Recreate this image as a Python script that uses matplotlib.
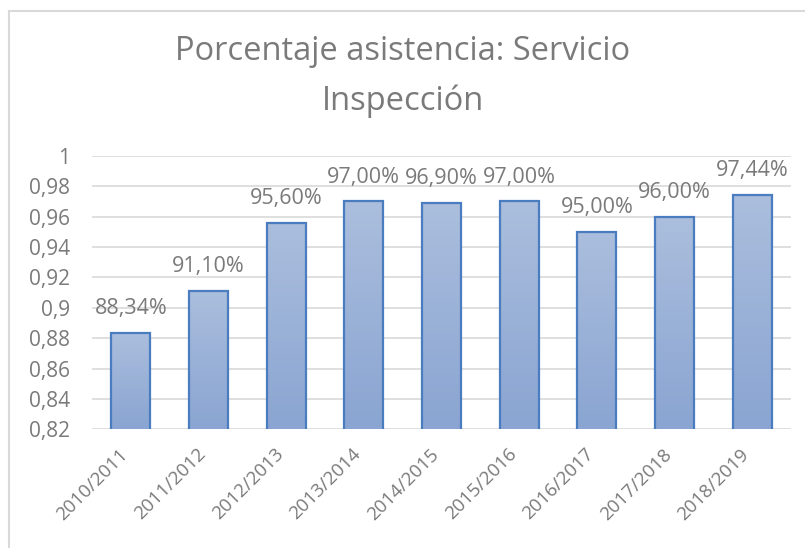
import numpy as np
import matplotlib.pyplot as plt
import matplotlib.transforms as mtransforms
from matplotlib.colors import LinearSegmentedColormap
from matplotlib.lines import Line2D

# Datos
cursos = ['2010/2011', '2011/2012', '2012/2013', '2013/2014', '2014/2015',
          '2015/2016', '2016/2017', '2017/2018', '2018/2019']
asistencia = [0.8834, 0.9110, 0.9560, 0.9700, 0.9690, 0.9700, 0.9500, 0.9600, 0.9744]
etiquetas = ['88,34%', '91,10%', '95,60%', '97,00%', '96,90%',
             '97,00%', '95,00%', '96,00%', '97,44%']
yticks = [0.82, 0.84, 0.86, 0.88, 0.9, 0.92, 0.94, 0.96, 0.98, 1]
ytick_labels = ['0,82', '0,84', '0,86', '0,88', '0,9', '0,92', '0,94', '0,96', '0,98', '1']

plt.rcParams['font.family'] = ['Open Sans', 'DejaVu Sans']
gris = '#7a7a7a'

fig = plt.figure(figsize=(8.05, 5.48), dpi=100)
ax = fig.add_axes([92 / 805, 1 - 429.3 / 548, 699 / 805, 273.6 / 548])

x = np.arange(len(cursos))
bars = ax.bar(x, asistencia, width=0.5, bottom=0, color='none',
              edgecolor='#4a7cc0', linewidth=1.6, zorder=3)

# Degradado en las barras
cmap = LinearSegmentedColormap.from_list('grad', ['#8aa5d2', '#abbedd'])
grad = np.linspace(0, 1, 256).reshape(-1, 1)
for b in bars:
    bx = b.get_x()
    w, h = b.get_width(), b.get_height()
    im = ax.imshow(grad, cmap=cmap, aspect='auto', origin='lower',
                   extent=[bx, bx + w, 0.82, h], zorder=2)
    im.set_clip_path(b)

for xi, v, t in zip(x, asistencia, etiquetas):
    ax.text(xi, v + 0.009, t, ha='center', va='bottom', fontsize=15.5, color=gris)

ax.set_xlim(-0.5, len(cursos) - 0.5)
ax.set_ylim(0.82, 1)
ax.set_yticks(yticks)
ax.set_yticklabels(ytick_labels, fontsize=15, color=gris)
ax.set_xticks(x)
ax.set_xticklabels(cursos, rotation=45, ha='right', rotation_mode='anchor',
                   fontsize=13.5, color=gris)
ax.tick_params(axis='y', length=0, pad=16)
ax.tick_params(axis='x', length=0, pad=10)
desplaz = mtransforms.ScaledTranslation(-12 / 100, -2 / 100, fig.dpi_scale_trans)
for lab in ax.get_xticklabels():
    lab.set_transform(lab.get_transform() + desplaz)
ax.grid(axis='y', color='#d9d9d9', linewidth=1.2, zorder=0)
ax.set_axisbelow(True)
for s in ax.spines.values():
    s.set_visible(False)

fig.text(0.5, 1 - 52 / 548, 'Porcentaje asistencia: Servicio', ha='center', va='center',
         fontsize=23.5, color=gris)
fig.text(0.5, 1 - 101 / 548, 'Inspección', ha='center', va='center',
         fontsize=23.5, color=gris)

# Marco del gráfico
fig.add_artist(Line2D([9 / 805, 9 / 805], [0, 1 - 11 / 548], color='#d9d9d9', lw=1.5))
fig.add_artist(Line2D([9 / 805, 1], [1 - 11 / 548, 1 - 11 / 548], color='#d9d9d9', lw=1.5))

fig.savefig('out.png', dpi=100)
